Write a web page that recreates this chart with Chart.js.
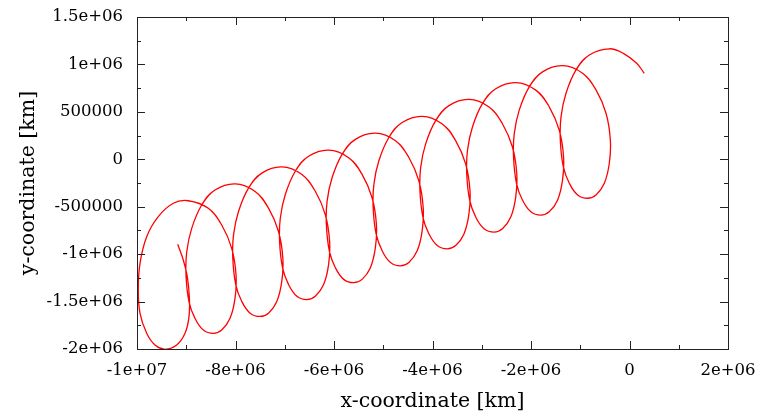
<!DOCTYPE html>
<html>
<head>
<meta charset="utf-8">
<script src="https://cdn.jsdelivr.net/npm/chart.js@4.4.1/dist/chart.umd.min.js"></script>
<style>
  html, body { margin: 0; padding: 0; background: #fff; }
  #wrap { width: 757px; height: 419px; }
</style>
</head>
<body>
<div id="wrap"><canvas id="chart" width="757" height="419"></canvas></div>
<script>
// Trayectoria, en miles de km
const xThousandKm = [
  -9174, -9060, -8979, -8938, -8944, -9025, -9194, -9431, -9635, -9803, -9939, -9974, -9939, -9803, -9568, -9263,
  -8958, -8552, -8280, -8077, -7989, -8010, -8111, -8280, -8450, -8653, -8822, -8944, -9005, -8990, -8889, -8686, -8416,
  -8008, -7602, -7330, -7127, -7039, -7060, -7161, -7330, -7500, -7703, -7872, -7994, -8055, -8040, -7939, -7736, -7466,
  -7058, -6652, -6380, -6177, -6089, -6110, -6211, -6380, -6550, -6753, -6922, -7044, -7105, -7090, -6989, -6786, -6516,
  -6108, -5702, -5430, -5227, -5139, -5160, -5261, -5430, -5600, -5803, -5972, -6094, -6155, -6140, -6039, -5836, -5566,
  -5158, -4752, -4480, -4277, -4189, -4210, -4311, -4480, -4650, -4853, -5022, -5144, -5205, -5190, -5089, -4886, -4616,
  -4208, -3802, -3530, -3327, -3239, -3260, -3361, -3530, -3700, -3903, -4072, -4194, -4255, -4240, -4139, -3936, -3666,
  -3258, -2852, -2580, -2377, -2289, -2310, -2411, -2580, -2750, -2953, -3122, -3244, -3305, -3290, -3189, -2986, -2716,
  -2308, -1902, -1630, -1427, -1339, -1360, -1461, -1630, -1800, -2003, -2172, -2294, -2355, -2340, -2239, -2036, -1766,
  -1358, -952, -680, -477, -389, -410, -511, -680, -850, -1053, -1222, -1344, -1405, -1390, -1289, -1086, -816,
  -408, -126, 146, 300
];
const yThousandKm = [
  -896, -1062, -1238, -1449, -1659, -1834, -1958, -2005, -1958, -1834, -1624, -1378, -1097, -816, -605, -464,
  -437, -517, -693, -939, -1220, -1466, -1677, -1800, -1835, -1800, -1677, -1502, -1220, -975, -728, -482, -324,
  -259, -339, -515, -761, -1042, -1288, -1499, -1622, -1657, -1622, -1499, -1324, -1042, -797, -550, -304, -146,
  -81, -161, -337, -583, -864, -1110, -1321, -1444, -1479, -1444, -1321, -1146, -864, -619, -372, -126, 32,
  97, 17, -159, -405, -686, -932, -1143, -1266, -1301, -1266, -1143, -968, -686, -441, -194, 52, 210,
  275, 195, 19, -227, -508, -754, -965, -1088, -1123, -1088, -965, -790, -508, -263, -16, 230, 388,
  453, 373, 197, -49, -330, -576, -787, -910, -945, -910, -787, -612, -330, -85, 162, 408, 566,
  631, 551, 375, 129, -152, -398, -609, -732, -767, -732, -609, -434, -152, 93, 340, 586, 744,
  809, 729, 553, 307, 26, -220, -431, -554, -589, -554, -431, -256, 26, 271, 518, 764, 922,
  987, 907, 731, 485, 204, -42, -253, -376, -411, -376, -253, -78, 204, 449, 696, 942, 1100,
  1165, 1117, 1012, 906
];

// Marcas de los ejes
const xTicks = [-1e7, -8e6, -6e6, -4e6, -2e6, 0, 2e6];
const xTickLabels = ['-1e+07', '-8e+06', '-6e+06', '-4e+06', '-2e+06', '0', '2e+06'];
const xMinorTicks = [-9e6, -7e6, -5e6, -3e6, -1e6, 1e6];
const yTicks = [-2e6, -1.5e6, -1e6, -5e5, 0, 5e5, 1e6, 1.5e6];
const yTickLabels = ['-2e+06', '-1.5e+06', '-1e+06', '-500000', '0', '500000', '1e+06', '1.5e+06'];
const yMinorTicks = [-1.75e6, -1.25e6, -7.5e5, -2.5e5, 2.5e5, 7.5e5, 1.25e6];

const points = xThousandKm.map((x, i) => ({ x: x * 1000, y: yThousandKm[i] * 1000 }));

const serif = 'DejaVu Serif';

// Marco con marcas hacia dentro (estilo gnuplot)
const frameTicks = {
  id: 'frameTicks',
  afterDatasetsDraw(chart) {
    const { ctx, chartArea: a, scales: { x, y } } = chart;
    ctx.save();
    ctx.strokeStyle = '#222';
    ctx.lineWidth = 1;
    ctx.beginPath();
    const vTick = (v, len) => {
      const px = Math.round(x.getPixelForValue(v)) + 0.5;
      ctx.moveTo(px, a.bottom); ctx.lineTo(px, a.bottom - len);
      ctx.moveTo(px, a.top); ctx.lineTo(px, a.top + len);
    };
    const hTick = (v, len) => {
      const py = Math.round(y.getPixelForValue(v)) + 0.5;
      ctx.moveTo(a.left, py); ctx.lineTo(a.left + len, py);
      ctx.moveTo(a.right, py); ctx.lineTo(a.right - len, py);
    };
    xTicks.forEach(v => vTick(v, 8));
    xMinorTicks.forEach(v => vTick(v, 4));
    yTicks.forEach(v => hTick(v, 8));
    yMinorTicks.forEach(v => hTick(v, 4));
    ctx.stroke();
    ctx.strokeRect(Math.round(a.left) + 0.5, Math.round(a.top) + 0.5,
      Math.round(a.right - a.left), Math.round(a.bottom - a.top));
    ctx.restore();
  }
};

new Chart(document.getElementById('chart'), {
  type: 'scatter',
  data: {
    datasets: [{
      data: points,
      showLine: true,
      borderColor: '#ff0000',
      borderWidth: 1.3,
      pointRadius: 0,
      tension: 0.4,
      fill: false
    }]
  },
  options: {
    responsive: false,
    animation: false,
    devicePixelRatio: 1,
    layout: { padding: { left: 0, top: 17, right: 29, bottom: 0 } },
    plugins: { legend: { display: false }, tooltip: { enabled: false } },
    scales: {
      x: {
        type: 'linear',
        min: -1e7,
        max: 2e6,
        afterFit: s => {
          s.height = 70;
          s.paddingLeft = 0;
          s.paddingRight = 0;
        },
        afterBuildTicks: s => { s.ticks = xTicks.map(v => ({ value: v })); },
        grid: { display: false, drawTicks: false },
        border: { display: false },
        ticks: {
          autoSkip: false,
          maxRotation: 0,
          padding: 12,
          color: '#000',
          font: { family: serif, size: 16.5 },
          callback: (v, i) => xTickLabels[i]
        },
        title: {
          display: true,
          text: 'x-coordinate [km]',
          color: '#000',
          font: { family: serif, size: 20.5 },
          padding: { top: 0, bottom: 5 }
        }
      },
      y: {
        type: 'linear',
        min: -2e6,
        max: 1.5e6,
        afterFit: s => {
          s.width = 137;
          s.paddingTop = 0;
          s.paddingBottom = 0;
        },
        afterBuildTicks: s => { s.ticks = yTicks.map(v => ({ value: v })); },
        grid: { display: false, drawTicks: false },
        border: { display: false },
        ticks: {
          autoSkip: false,
          padding: 14,
          color: '#000',
          font: { family: serif, size: 16.5 },
          callback: (v, i) => yTickLabels[i]
        },
        title: {
          display: true,
          text: 'y-coordinate [km]',
          color: '#000',
          font: { family: serif, size: 20.5 },
          padding: { top: 16, bottom: 0 }
        }
      }
    }
  },
  plugins: [frameTicks]
});
</script>
</body>
</html>
